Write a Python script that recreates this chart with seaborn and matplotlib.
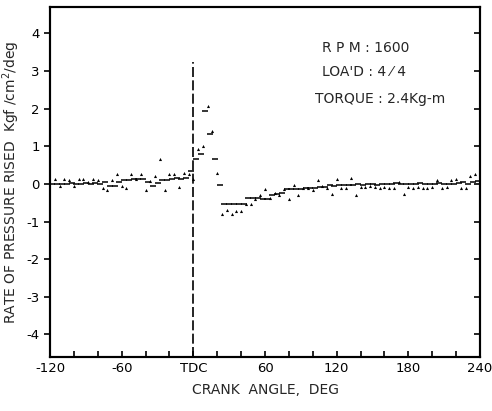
import numpy as np
import pandas as pd
import matplotlib
matplotlib.use("Agg")
import matplotlib.pyplot as plt
import seaborn as sns

# Series A (dash-like samples), crank angle in deg
angle_a = [-118, -114, -110, -106, -102, -98, -94, -90, -86, -82, -78, -74, -70, -66, -62,
           -58, -54, -50, -46, -42, -38, -34, -30, -26, -22, -18, -14, -10, -6, -2,
           2, 6, 10, 14, 18, 22, 26, 30, 34, 38, 42, 46, 50, 54, 58, 62, 66, 70, 74,
           78, 82, 86, 90, 94, 98, 102, 106, 110, 114, 118, 122, 126, 130, 134, 138,
           142, 146, 150, 154, 158, 162, 166, 170, 174, 178, 182, 186, 190, 194, 198,
           202, 206, 210, 214, 218, 222, 226, 230, 234, 238]
rate_a = [0, 0, 0, 0, 0.02, 0, 0, 0.02, 0, 0.02, 0, 0.05, -0.05, -0.05, 0.05,
          0.1, 0.1, 0.12, 0.12, 0.12, 0.05, -0.05, 0.02, 0.1, 0.1, 0.12, 0.15, 0.12, 0.15, 0.35,
          0.65, 0.8, 1.94, 1.32, 0.66, -0.04, -0.54, -0.54, -0.54, -0.54, -0.54, -0.38, -0.38, -0.38, -0.4, -0.4, -0.29, -0.27, -0.25,
          -0.14, -0.14, -0.14, -0.14, -0.12, -0.1, -0.1, -0.08, -0.08, -0.03, -0.05, -0.03, -0.03, -0.03, -0.03, 0,
          -0.02, 0, 0, -0.02, 0, 0, 0, 0.02, 0, 0, 0, 0, 0.02, 0, 0,
          0, 0.02, 0, 0, 0, 0.02, 0.05, 0, 0.05, 0.08]

# Series B (dot-like samples)
angle_b = [-116, -112, -108, -104, -100, -96, -92, -88, -84, -80, -76, -72, -68, -64, -60,
           -56, -52, -48, -44, -40, -36, -32, -28, -24, -20, -16, -12, -8, -4, 0,
           4, 8, 12, 16, 20, 24, 28, 32, 36, 40, 44, 48, 52, 56, 60, 64, 68, 72, 76,
           80, 84, 88, 92, 96, 100, 104, 108, 112, 116, 120, 124, 128, 132, 136, 140,
           144, 148, 152, 156, 160, 164, 168, 172, 176, 180, 184, 188, 192, 196, 200,
           204, 208, 212, 216, 220, 224, 228, 232, 236]
rate_b = [0.12, -0.05, 0.12, 0.1, -0.05, 0.12, 0.12, 0.05, 0.12, 0.1, -0.1, -0.15, 0.1, 0.25, -0.05,
          -0.1, 0.25, 0.12, 0.25, -0.15, 0.08, 0.2, 0.65, -0.15, 0.25, 0.25, -0.08, 0.3, 0.25, 0.12,
          0.92, 1.0, 2.07, 1.41, 0.28, -0.8, -0.69, -0.8, -0.72, -0.72, -0.54, -0.54, -0.4, -0.29, -0.14, -0.38, -0.25, -0.3, -0.14,
          -0.41, -0.03, -0.29, -0.12, -0.1, -0.15, 0.1, -0.05, -0.1, -0.27, 0.12, -0.1, -0.12, 0.15, -0.29, -0.08,
          -0.08, -0.05, -0.08, -0.1, -0.08, -0.1, -0.12, 0.05, -0.27, -0.08, -0.1, -0.08, -0.1, -0.12, -0.08,
          0.1, -0.1, -0.08, 0.1, 0.12, -0.12, -0.1, 0.2, 0.26]

x_ticks = [-120, -60, 0, 60, 120, 180, 240]
x_ticklabels = ["-120", "-60", "TDC", "60", "120", "180", "240"]
y_ticks = [-4, -3, -2, -1, 0, 1, 2, 3, 4]
y_ticklabels = ["-4", "-3", "-2", "-1", "0", "1", "2", "3", "4"]
tdc_line_top = 3.25
notes = ["R P M : 1600", "LOA'D : 4 ⁄ 4", "TORQUE : 2.4Kg-m"]

sns.set_theme(style="white")
plt.rcParams['font.family'] = ['DejaVu Sans']

fig = plt.figure(figsize=(4.92, 4.11), dpi=100)
ax = fig.add_axes([50/492, 1-357/411, 430/492, 350/411])

df_a = pd.DataFrame({"angle": angle_a, "rate": rate_a})
df_b = pd.DataFrame({"angle": angle_b, "rate": rate_b})
sns.scatterplot(data=df_a, x="angle", y="rate", ax=ax, marker="_", s=16,
                color="black", linewidth=1.1, legend=False)
sns.scatterplot(data=df_b, x="angle", y="rate", ax=ax, marker="^", s=5,
                color="black", linewidth=0, legend=False)

ax.vlines(0, -4.6, tdc_line_top, colors="black", linestyles=(0, (6, 2)), linewidth=1.2)

ax.set_xlim(-120, 240)
ax.set_ylim(-4.6, 4.7)
ax.set_xticks(x_ticks)
ax.set_xticklabels(x_ticklabels, fontsize=9.5)
ax.set_xticks(np.arange(-120, 241, 20), minor=True)
ax.set_yticks(y_ticks)
ax.set_yticklabels(y_ticklabels, fontsize=9.5)
ax.tick_params(axis="x", which="both", direction="in", length=4, width=1.2, bottom=True, colors="black")
ax.tick_params(axis="y", which="both", direction="out", length=4, width=1.2, left=True,
               right=False, colors="black")

# inward ticks on the right spine via a twin axis
ax2 = ax.twinx()
ax2.set_ylim(ax.get_ylim())
ax2.set_yticks(y_ticks)
ax2.tick_params(axis="y", direction="in", length=4, width=1.2, right=True, left=False,
                labelright=False, colors="black")
ax2.grid(False)

for a in (ax, ax2):
    for sp in a.spines.values():
        sp.set_color("black")
        sp.set_linewidth(1.5)

ax.set_xlabel("CRANK  ANGLE,  DEG", fontsize=10, labelpad=6)
ax.set_ylabel("RATE OF PRESSURE RISED  Kgf /cm$^2$/deg", fontsize=10, labelpad=3)

ys = [48, 72, 99]
xs = [322, 322, 315]
for s, xx, yy in zip(notes, xs, ys):
    ax.annotate(s, xy=(xx/492, 1-yy/411), xycoords="figure fraction", fontsize=10,
                va="center", ha="left")

fig.savefig("out.png", dpi=100)
